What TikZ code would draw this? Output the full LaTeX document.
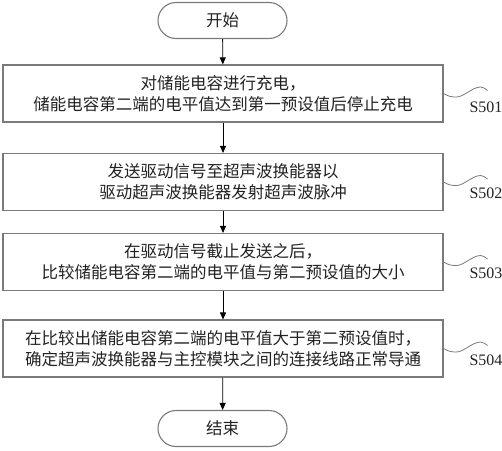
\documentclass[tikz,border=0pt]{standalone}
\usepackage{fontspec}
\newfontfamily\cjk{Noto Sans CJK SC}
\newfontfamily\lab{Liberation Serif}
\usetikzlibrary{arrows.meta,shapes.misc}
\definecolor{boxgray}{HTML}{7A7A7A}
\definecolor{txt}{HTML}{222222}
\begin{document}
\begin{tikzpicture}[x=1pt,y=-1pt,
  stepbox/.style={draw=boxgray,line width=1.1pt,minimum width=440pt,minimum height=57pt,inner sep=0pt,align=center,text=txt,font=\cjk\fontsize{16.5}{21}\selectfont},
  pill/.style={draw=boxgray,line width=1.1pt,rounded rectangle,minimum width=129pt,minimum height=36pt,inner sep=0pt,text=txt,font=\cjk\fontsize{16.5}{21}\selectfont},
  flow/.style={draw=black,line width=0.8pt,-{Triangle[length=7pt,width=6pt]}},
  wave/.style={draw=boxgray,line width=0.8pt},
  steplab/.style={text=txt,font=\lab\fontsize{16}{18}\selectfont,inner sep=0pt}]
\useasboundingbox (0,0) rectangle (502,450);
\node[pill] (start) at (222.5,20.5) {开始};
\node[stepbox] (b1) at (223,93.5) {对储能电容进行充电，\\储能电容第二端的电平值达到第一预设值后停止充电};
\node[stepbox] (b2) at (223,182) {发送驱动信号至超声波换能器以\\驱动超声波换能器发射超声波脉冲};
\node[stepbox] (b3) at (223,262) {在驱动信号截止发送之后，\\比较储能电容第二端的电平值与第二预设值的大小};
\node[stepbox] (b4) at (223,348.5) {在比较出储能电容第二端的电平值大于第二预设值时，\\确定超声波换能器与主控模块之间的连接线路正常导通};
\node[pill] (end) at (222.5,428.5) {结束};
\draw[flow] (start) -- (b1);
\draw[flow] (b1) -- (b2);
\draw[flow] (b2) -- (b3);
\draw[flow] (b3) -- (b4);
\draw[flow] (b4) -- (end);
\foreach \b/\n/\y in {b1/S501/107,b2/S502/193.5,b3/S503/273.5,b4/S504/360}{
  \draw[wave] (\b.east) .. controls +(5,3) and +(-5,0) .. ++(13,3.5) .. controls +(7,0) and +(-8,0) .. ++(24,-10) .. controls +(3,0) and +(-3,-2) .. ++(7,3.5);
  \node[steplab] (l\b) at (486,\y) {\n};
}
\end{tikzpicture}
\end{document}
